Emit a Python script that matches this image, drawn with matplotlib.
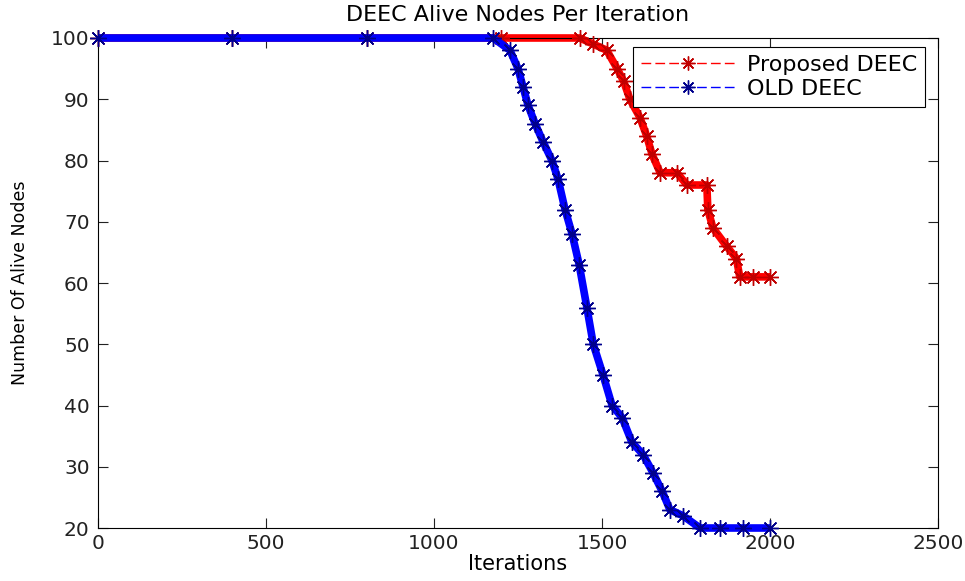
import matplotlib
matplotlib.use("Agg")
import matplotlib.pyplot as plt
from matplotlib.lines import Line2D

# values
proposed_iter = [0, 400, 800, 1200, 1434, 1474, 1514, 1545, 1564, 1583, 1613, 1633,
                 1649, 1673, 1723, 1753, 1812, 1815, 1830, 1871, 1900, 1910, 1950, 2000]
proposed_alive = [100, 100, 100, 100, 100, 99, 98, 95, 93, 90, 87, 84,
                  81, 78, 78, 76, 76, 72, 69, 66, 64, 61, 61, 61]

old_iter = [0, 400, 800, 1176, 1226, 1250, 1265, 1280, 1301, 1325, 1351, 1369, 1390,
            1411, 1432, 1455, 1474, 1503, 1530, 1560, 1589, 1622, 1652, 1679, 1702,
            1741, 1792, 1850, 1920, 2000]
old_alive = [100, 100, 100, 100, 98, 95, 92, 89, 86, 83, 80, 77, 72,
             68, 63, 56, 50, 45, 40, 38, 34, 32, 29, 26, 23,
             22, 20, 20, 20, 20]

xticks = [0, 500, 1000, 1500, 2000, 2500]
yticks = [20, 30, 40, 50, 60, 70, 80, 90, 100]

asterisk = (8, 2, 0)

fig = plt.figure(figsize=(9.65, 5.81), dpi=100)
ax = fig.add_axes([0.1016, 0.0912, 0.8704, 0.8434])

# red series first, blue covers it on the flat part at 100
ax.plot(proposed_iter, proposed_alive, "-", color="#ff0000", lw=5.5,
        solid_capstyle="butt", zorder=2, clip_on=False)
ax.plot(proposed_iter, proposed_alive, ls="none", marker=asterisk, markersize=12,
        markeredgecolor="#c00000", markeredgewidth=1.0, zorder=3, clip_on=False)

ax.plot(old_iter, old_alive, "-", color="#0000ff", lw=5.5,
        solid_capstyle="butt", zorder=4, clip_on=False)
ax.plot(old_iter, old_alive, ls="none", marker=asterisk, markersize=12,
        markeredgecolor="#00008c", markeredgewidth=1.0, zorder=5, clip_on=False)

ax.set_xlim(0, 2500)
ax.set_ylim(20, 100)
ax.set_xticks(xticks)
ax.set_yticks(yticks)
ax.tick_params(direction="in", top=True, right=True, length=7, width=0.8,
               labelsize=14.5, colors="#222222")
ax.tick_params(axis="x", pad=4)
ax.tick_params(axis="y", pad=6)
for sp in ax.spines.values():
    sp.set_linewidth(0.8)

ax.set_title("DEEC Alive Nodes Per Iteration", fontsize=16, pad=12)
ax.set_xlabel("Iterations", fontsize=15, labelpad=1)
ax.set_ylabel("Number Of Alive Nodes", fontsize=12.5, labelpad=16)

handles = [
    Line2D([], [], color="#ff0000", lw=1, ls=(0, (7, 3)), marker=asterisk,
           markersize=10, markeredgecolor="#c00000"),
    Line2D([], [], color="#0000ff", lw=1, ls=(0, (7, 3)), marker=asterisk,
           markersize=10, markeredgecolor="#00008c"),
]
leg = ax.legend(handles, ["Proposed DEEC", "OLD DEEC"], loc="upper right",
                bbox_to_anchor=(0.985, 0.982), fancybox=False, framealpha=1,
                edgecolor="black", prop={"size": 16},
                handlelength=4.3, borderpad=0.35, labelspacing=0.2,
                handletextpad=0.5, borderaxespad=0)
leg.get_frame().set_linewidth(0.8)

fig.savefig("out.png", dpi=100)
